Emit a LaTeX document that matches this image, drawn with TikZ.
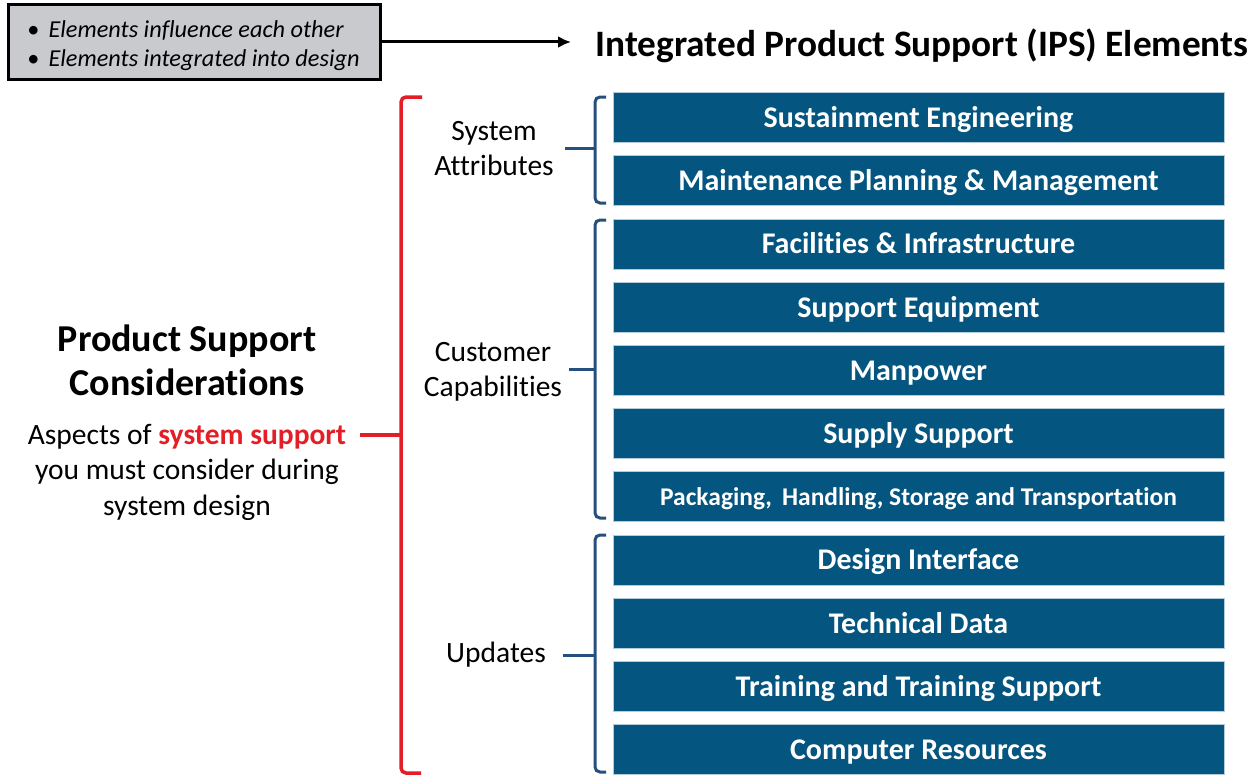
\documentclass[tikz,border=0pt]{standalone}
\usepackage{fontspec}
\setmainfont{Carlito}[Ligatures={NoCommon}]
\usetikzlibrary{arrows.meta}
\definecolor{ipsblue}{RGB}{4,85,128}
\definecolor{brblue}{RGB}{37,80,125}
\definecolor{ipsred}{RGB}{228,30,38}
\definecolor{notegray}{RGB}{200,202,205}
\begin{document}
\begin{tikzpicture}[x=1pt,y=-1pt,
 ips/.style={fill=ipsblue, draw=white!70!ipsblue, line width=0.6pt, minimum width=611pt, minimum height=50pt, inner sep=0pt, text height=26pt, text depth=6pt, text=white, font=\fontsize{30}{34}\selectfont\bfseries},
 ipssmall/.style={ips, text height=24pt, text depth=6pt, font=\fontsize{25.5}{30}\selectfont\bfseries},
 lbl/.style={align=center, font=\fontsize{29.5}{35}\selectfont, inner sep=0pt},
 bbrace/.style={draw=brblue, line width=3pt, rounded corners=5pt},
 rbrace/.style={draw=ipsred, line width=3.5pt, rounded corners=5pt},
 notebox/.style={fill=notegray, draw=black, line width=3pt, minimum width=372pt, minimum height=74pt, align=left, inner sep=0pt, font=\fontsize{24.3}{29}\selectfont\itshape},
]
\useasboundingbox (0,0) rectangle (1258,776);

% note box and title
\node[notebox] (note) at (194,42) {\rule{0pt}{24pt}\hspace*{-1pt}\textup{\textbullet}\hspace{9pt}Elements influence each other\\\hspace*{-1pt}\textup{\textbullet}\hspace{9pt}Elements integrated into design};
\coordinate (arrowend) at (571,42);
\draw[line width=3pt, -{Latex[length=13pt,width=12pt]}] (note.east) -- (arrowend);
\node[font=\fontsize{37.3}{40}\selectfont\bfseries, inner sep=0pt] (title) at (922,46) {Integrated Product Support (IPS) Elements};

% IPS element boxes
\node[ips] (b1) at (918.5,117.5) {Sustainment Engineering};
\node[ips] (b2) at (918.5,180.7) {Maintenance Planning \& Management};
\node[ips] (b3) at (918.5,243.9) {Facilities \& Infrastructure};
\node[ips] (b4) at (918.5,307.1) {Support Equipment};
\node[ips] (b5) at (918.5,370.3) {Manpower};
\node[ips] (b6) at (918.5,433.5) {Supply Support};
\node[ipssmall] (b7) at (918.5,496.7) {Packaging,\, Handling, Storage and Transportation};
\node[ips] (b8) at (918.5,559.9) {Design Interface};
\node[ips] (b9) at (918.5,623.1) {Technical Data};
\node[ips] (b10) at (918.5,686.3) {Training and Training Support};
\node[ips] (b11) at (918.5,749.5) {Computer Resources};

% group labels
\node[lbl] (sa) at (494,149) {System\\Attributes};
\node[lbl] (cc) at (493,371.5) {Customer\\Capabilities};
\node[lbl] (up) at (496,655) {Updates};

% blue braces
\coordinate (s1t) at (606,97);  \coordinate (s1m) at (595,148); \coordinate (s1b) at (606,203);
\coordinate (s1l) at (565,148);
\draw[bbrace] (s1t) -- (595,97) -- (595,144) -- (s1m) -- (595,152) -- (595,203) -- (s1b);
\draw[bbrace] (s1l) -- (s1m);
\coordinate (s2t) at (606,220); \coordinate (s2m) at (595,369); \coordinate (s2b) at (606,518);
\coordinate (s2l) at (569,369);
\draw[bbrace] (s2t) -- (595,220) -- (595,365) -- (s2m) -- (595,373) -- (595,518) -- (s2b);
\draw[bbrace] (s2l) -- (s2m);
\coordinate (s3t) at (606,535); \coordinate (s3m) at (595,655); \coordinate (s3b) at (606,772);
\coordinate (s3l) at (563,655);
\draw[bbrace] (s3t) -- (595,535) -- (595,651) -- (s3m) -- (595,659) -- (595,772) -- (s3b);
\draw[bbrace] (s3l) -- (s3m);

% left text
\node[align=center, inner sep=0pt, font=\fontsize{38}{44}\selectfont\bfseries] (psc) at (187,360) {Product Support\\Considerations};
\node[lbl, font=\fontsize{29.5}{35.5}\selectfont] (asp) at (187,472) {Aspects of \textcolor{ipsred}{\bfseries system support}\\you must consider during\\system design};

% red brace
\coordinate (rt) at (422,97); \coordinate (rm) at (401,435); \coordinate (rb) at (421,773);
\draw[rbrace] (rt) -- (401,97) -- (401,431) -- (rm) -- (401,439) -- (401,773) -- (rb);
\coordinate (rl) at (360,435);
\draw[rbrace] (rl) -- (rm);
\end{tikzpicture}
\end{document}
